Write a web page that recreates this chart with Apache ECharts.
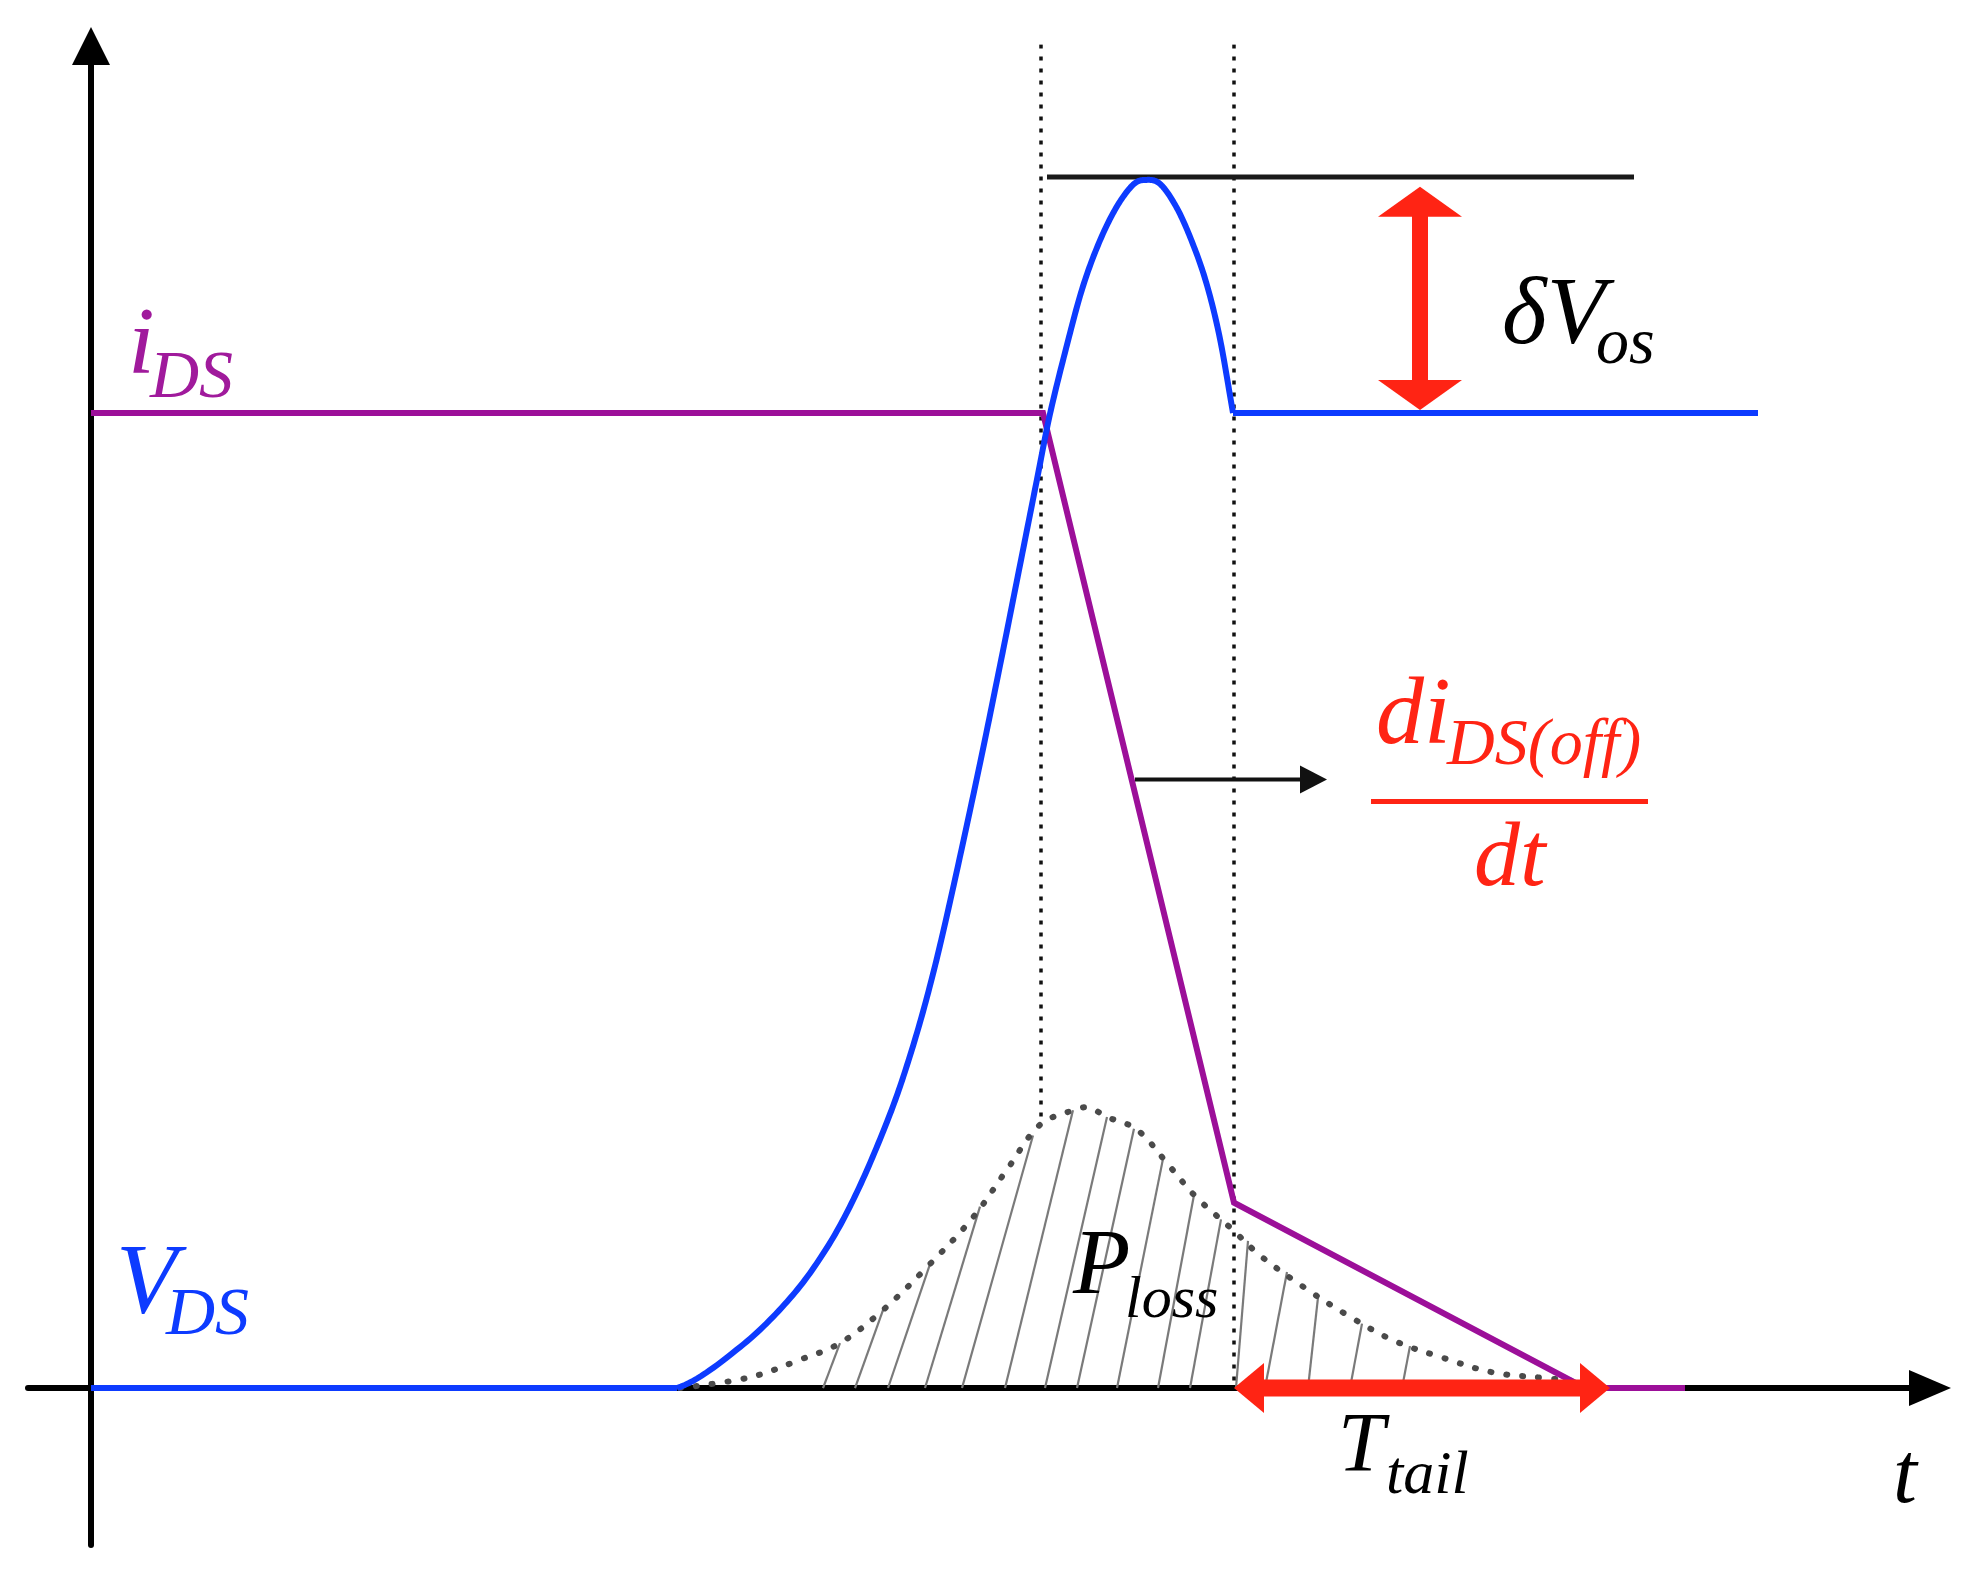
<!DOCTYPE html>
<html><head><meta charset="utf-8">
<script src="https://cdn.jsdelivr.net/npm/echarts@6/dist/echarts.min.js"></script>
<style>html,body{margin:0;padding:0;background:#fff}#c{width:1976px;height:1571px}</style>
</head><body><div id="c"></div>
<script>
// time t in arbitrary units, amplitude normalised so that the on-state current iDS = 1
const vdsLow = [[0, 0], [5.86, 0]];
const vdsCurve = [[5.86,0],[6.49,0.042],[6.99,0.092],[7.36,0.144],[7.66,0.201],[7.96,0.273],[8.16,0.331],[8.36,0.401],[8.56,0.485],[8.86,0.626],[9.09,0.741],[9.29,0.844],[9.46,0.932],[9.59,0.999],[9.76,1.070],[9.92,1.130],[10.09,1.177],[10.26,1.212],[10.42,1.234],[10.54,1.239],[10.69,1.235],[10.86,1.210],[11.02,1.173],[11.16,1.131],[11.29,1.076],[11.42,1.0]];
const vdsHigh = [[11.42, 1.0], [16.67, 1.0]];
const idsPoints = [[0, 1.0], [9.52, 1.0], [11.43, 0.190], [14.94, 0], [15.94, 0]];
const plossCurve = [[5.89,0],[6.59,0.011],[7.09,0.029],[7.49,0.046],[7.92,0.080],[8.36,0.124],[8.82,0.175],[9.16,0.224],[9.49,0.270],[9.82,0.285],[9.95,0.288],[10.16,0.278],[10.46,0.265],[10.79,0.227],[11.05,0.196],[11.42,0.162],[11.69,0.136],[12.12,0.104],[12.56,0.075],[13.02,0.049],[13.52,0.031],[14.02,0.016],[14.56,0.010],[14.89,0.006],[15.05,0]];
// hatch lines: [t at base, t at top, amplitude at top]
const hatchLines = [[7.32,7.49,0.046],[7.64,7.92,0.080],[7.97,8.39,0.127],[8.34,8.89,0.186],[8.71,9.42,0.259],[9.14,9.82,0.285],[9.54,10.16,0.278],[9.86,10.43,0.266],[10.26,10.72,0.235],[10.67,11.03,0.198],[10.99,11.30,0.173],[11.45,11.57,0.151],[11.74,11.96,0.119],[12.17,12.27,0.093],[12.59,12.71,0.066],[13.11,13.19,0.043]];
const markerTimes = [9.50, 11.43];
const markerTop = 1.378;
const markerBottom = [0.274, 0];
const overshootLine = [[9.56, 1.242], [15.43, 1.242]];
// arrows: [t1, v1, t2, v2, kind]
const arrowData = [[13.29, 1.003, 13.29, 1.232, 0], [11.43, 0, 15.19, 0, 1], [10.44, 0.624, 12.36, 0.624, 2]];

const BLUE = '#0d3bff', PURPLE = '#9c0f99', RED = '#ff2414';
const arrowStyles = [
  {color: RED, w: 16, hl: 30, hw: 42, dbl: true},
  {color: RED, w: 17, hl: 30, hw: 25, dbl: true},
  {color: '#111', w: 4, hl: 27, hw: 14, dbl: false}
];
const SERIF = "'Liberation Serif', 'DejaVu Serif', serif";

function txt(x, y, text, size, color) {
  return {type: 'text', x: x, y: y, z: 100,
    style: {text: text, fill: color, fontSize: size, fontFamily: SERIF, fontStyle: 'italic',
      align: 'left', verticalAlign: 'middle'}};
}

// Catmull-Rom spline through pixel points, sampled for drawing
function splinePoints(px) {
  const n = px.length;
  const ext = [[px[0][0] - (px[1][0] - px[0][0]), px[0][1]]].concat(px,
    [[2 * px[n - 1][0] - px[n - 2][0], 2 * px[n - 1][1] - px[n - 2][1]]]);
  const out = [px[0]];
  for (let i = 0; i < n - 1; i++) {
    const p0 = ext[i], p1 = ext[i + 1], p2 = ext[i + 2], p3 = ext[i + 3];
    const c1 = [p1[0] + (p2[0] - p0[0]) / 6, p1[1] + (p2[1] - p0[1]) / 6];
    const c2 = [p2[0] - (p3[0] - p1[0]) / 6, p2[1] - (p3[1] - p1[1]) / 6];
    for (let s = 1; s <= 16; s++) {
      const t = s / 16, u = 1 - t;
      out.push([
        u * u * u * p1[0] + 3 * u * u * t * c1[0] + 3 * u * t * t * c2[0] + t * t * t * p2[0],
        u * u * u * p1[1] + 3 * u * u * t * c1[1] + 3 * u * t * t * c2[1] + t * t * t * p2[1]]);
    }
  }
  return out;
}

const chart = echarts.init(document.getElementById('c'), null, {renderer: 'canvas'});
const lineBase = {type: 'line', showSymbol: false, symbol: 'none', animation: false, silent: true};

chart.setOption({
  backgroundColor: '#fff',
  animation: false,
  grid: {left: 28, top: 46, width: 1902, height: 1499, containLabel: false},
  xAxis: {type: 'value', min: -0.63, max: 18.39,
    axisLine: {show: true, onZero: true, symbol: ['none', 'triangle'], symbolSize: [36, 42],
      lineStyle: {color: '#000', width: 6}},
    axisTick: {show: false}, axisLabel: {show: false}, splitLine: {show: false}},
  yAxis: {type: 'value', min: -0.161, max: 1.3764,
    axisLine: {show: true, onZero: true, symbol: ['none', 'triangle'], symbolSize: [38, 38],
      lineStyle: {color: '#000', width: 6}},
    axisTick: {show: false}, axisLabel: {show: false}, splitLine: {show: false}},
  series: [
    {type: 'custom', z: 2, animation: false, silent: true, data: hatchLines,
      renderItem: function (params, api) {
        const a = api.coord([api.value(0), 0]);
        const b = api.coord([api.value(1), api.value(2)]);
        return {type: 'line', shape: {x1: a[0], y1: a[1], x2: b[0], y2: b[1]},
          style: {stroke: '#7a7a7a', lineWidth: 2.2}};
      }},
    Object.assign({}, lineBase, {z: 3, data: plossCurve, smooth: 0.35,
      lineStyle: {color: '#4a4a4a', width: 6, type: [1, 15], cap: 'round'}}),
    Object.assign({}, lineBase, {z: 3, data: [[markerTimes[0], markerTop], [markerTimes[0], markerBottom[0]]],
      lineStyle: {color: '#111', width: 3.5, type: [4, 8]}}),
    Object.assign({}, lineBase, {z: 3, data: [[markerTimes[1], markerTop], [markerTimes[1], markerBottom[1]]],
      lineStyle: {color: '#111', width: 3.5, type: [4, 8]}}),
    Object.assign({}, lineBase, {z: 4, data: overshootLine, lineStyle: {color: '#1a1a1a', width: 5}}),
    Object.assign({}, lineBase, {z: 5, data: idsPoints, lineStyle: {color: PURPLE, width: 6, join: 'miter'}}),
    Object.assign({}, lineBase, {z: 6, data: vdsLow, lineStyle: {color: BLUE, width: 6}}),
    {type: 'custom', z: 6, animation: false, silent: true, clip: false, data: vdsCurve,
      renderItem: function (params, api) {
        if (params.dataIndex !== 0) return null;
        const px = vdsCurve.map(function (d) { return api.coord(d); });
        return {type: 'polyline', shape: {points: splinePoints(px)},
          style: {stroke: BLUE, lineWidth: 6, fill: 'none', lineJoin: 'round'}};
      }},
    Object.assign({}, lineBase, {z: 6, data: vdsHigh, lineStyle: {color: BLUE, width: 6}}),
    {type: 'custom', z: 8, animation: false, silent: true, data: arrowData,
      renderItem: function (params, api) {
        const p1 = api.coord([api.value(0), api.value(1)]);
        const p2 = api.coord([api.value(2), api.value(3)]);
        const st = arrowStyles[api.value(4)];
        const dx = p2[0] - p1[0], dy = p2[1] - p1[1];
        const L = Math.hypot(dx, dy) || 1;
        const ux = dx / L, uy = dy / L, nx = -uy, ny = ux;
        const s1 = st.dbl ? [p1[0] + ux * st.hl * 0.8, p1[1] + uy * st.hl * 0.8] : p1;
        const s2 = [p2[0] - ux * st.hl * 0.8, p2[1] - uy * st.hl * 0.8];
        const head = function (tip, sx, sy) {
          return {type: 'polygon', shape: {points: [
            [tip[0], tip[1]],
            [tip[0] - sx * st.hl + nx * st.hw, tip[1] - sy * st.hl + ny * st.hw],
            [tip[0] - sx * st.hl - nx * st.hw, tip[1] - sy * st.hl - ny * st.hw]]},
            style: {fill: st.color}};
        };
        const children = [{type: 'line', shape: {x1: s1[0], y1: s1[1], x2: s2[0], y2: s2[1]},
          style: {stroke: st.color, lineWidth: st.w}}, head(p2, ux, uy)];
        if (st.dbl) children.push(head(p1, -ux, -uy));
        return {type: 'group', children: children};
      }}
  ],
  graphic: [
    txt(128, 348, 'i', 96, '#a01a9c'),
    txt(150, 379, 'DS', 68, '#a01a9c'),
    txt(116, 1286, 'V', 100, BLUE),
    txt(166, 1316, 'DS', 68, BLUE),
    txt(1502, 318, 'δV', 96, '#000'),
    txt(1596, 346, 'os', 66, '#000'),
    txt(1376, 718, 'di', 96, RED),
    txt(1447, 747, 'DS(off)', 66, RED),
    {type: 'rect', z: 100, shape: {x: 1371, y: 799, width: 277, height: 5}, style: {fill: RED}},
    txt(1474, 861, 'dt', 92, RED),
    txt(1073, 1268, 'P', 94, '#000'),
    txt(1125, 1301, 'loss', 60, '#000'),
    txt(1338, 1449, 'T', 84, '#000'),
    txt(1386, 1477, 'tail', 62, '#000'),
    txt(1893, 1479, 't', 86, '#000')
  ]
});
</script></body></html>
